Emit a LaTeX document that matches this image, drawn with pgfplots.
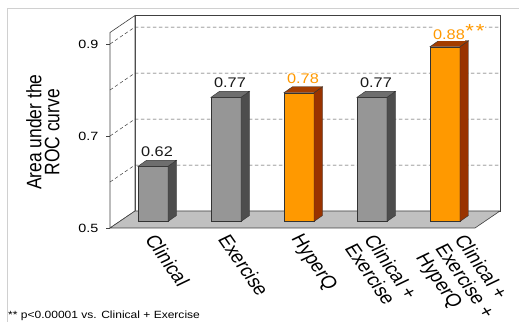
\documentclass[border=0pt]{standalone}
\usepackage{fontspec}
\setmainfont{Liberation Sans}
\usepackage{pgfplots}
\usepackage{pgfplotstable}
\pgfplotsset{compat=1.18}
\definecolor{grayfront}{HTML}{969696}
\definecolor{grayside}{HTML}{4D4D4D}
\definecolor{graytop}{HTML}{6E6E6E}
\definecolor{orfront}{HTML}{FF9900}
\definecolor{orside}{HTML}{993300}
\definecolor{ortop}{HTML}{A33D00}
\definecolor{edge}{HTML}{333333}
\definecolor{wall}{HTML}{404040}
\definecolor{floorc}{HTML}{C0C0C0}
\definecolor{framec}{HTML}{D0D0D0}
\definecolor{labgray}{HTML}{1A1A1A}

\pgfdeclareplotmark{nothing}{}

\pgfplotstableread{
x v
0 0.62
1 0.77
3 0.77
}\graydata
\pgfplotstableread{
x v
2 0.78
}\orangedata
\pgfplotstableread{
x v
4 0.88
}\stardata

\newcommand\starsuffix{\rlap{\setlength{\fboxsep}{0.5bp}\colorbox{white}{\raisebox{0.15em}{\fontsize{19}{19}\selectfont *\hspace{1.5bp}*}}}}

\tikzset{xlab/.style={anchor=north west, align=left, inner sep=0pt, xshift=#1, yshift=-1bp, xscale=1.2, rotate=-60, font=\fontsize{17.5}{18.5}\selectfont}}

\pgfplotsset{
  prism/.style n args={5}{
    scatter, only marks, mark=nothing,
    point meta=explicit symbolic,
    scatter/@pre marker code/.code={%
      \edef\val{\pgfplotspointmeta}%
      \pgfmathsetmacro\H{(\val-0.5)*460}%
      \filldraw[fill=#1, draw=edge, line width=0.4bp] (-8.5bp,{(6.5-\H)*1bp}) rectangle (21.5bp,6.5bp);
      \filldraw[fill=#2, draw=edge, line width=0.4bp] (21.5bp,{(6.5-\H)*1bp}) -- (30bp,{(12.5-\H)*1bp}) -- (30bp,12.5bp) -- (21.5bp,6.5bp) -- cycle;
      \filldraw[fill=#3, draw=edge, line width=0.4bp] (-8.5bp,6.5bp) -- (21.5bp,6.5bp) -- (30bp,12.5bp) -- (0bp,12.5bp) -- cycle;
      \node[text=#4, fill=white, inner sep=0.5bp, xscale=1.17, font=\fontsize{14}{14}\selectfont] at (10.5bp,21bp) {\val#5};
    },
    scatter/@post marker code/.code={},
  },
}

\begin{document}
\begin{tikzpicture}
\begin{axis}[
  at={(110bp,94bp)}, anchor=south west,
  scale only axis, width=365bp, height=195.5bp,
  xmin=-0.5, xmax=4.5, ymin=0.5, ymax=0.925,
  clip=false,
  axis line style={draw=none},
  ytick={0.5,0.7,0.9}, yticklabels={0.5,0.7,0.9},
  ytick pos=left, tick align=outside,
  major tick length=3.5bp,
  ytick style={draw=black!75, line width=0.5bp},
  xtick={0,1,2,3},
  xticklabels={Clinical, Exercise, HyperQ, {Clinical +\\Exercise}},
  extra x ticks={4},
  extra x tick labels={{Clinical +\\Exercise +\\HyperQ}},
  extra x tick style={every x tick label/.style={xlab=28.5bp}},
  xtick style={draw=none},
  every x tick label/.style={xlab=11bp},
  yticklabel style={anchor=east, inner sep=0pt, xshift=-8bp, xscale=1.2, font=\fontsize{12}{12}\selectfont},
  every axis y label/.style={at={(axis description cs:-0.184,0.49)}, anchor=center, xscale=1.2, rotate=90, align=center, font=\fontsize{17.5}{15}\selectfont},
  ylabel={Area under the\\ROC curve},
  /pgf/number format/assume math mode=true,
]
% back wall
\filldraw[fill=white, draw=wall, line width=0.6bp] ([shift={(25bp,17bp)}]axis cs:-0.5,0.5) rectangle ([shift={(25bp,17bp)}]axis cs:4.5,0.925);
% left wall
\filldraw[fill=white, draw=wall, line width=0.6bp] (axis cs:-0.5,0.5) -- ([shift={(25bp,17bp)}]axis cs:-0.5,0.5) -- ([shift={(25bp,17bp)}]axis cs:-0.5,0.925) -- (axis cs:-0.5,0.925) -- cycle;
% gridlines
\pgfplotsinvokeforeach{0.6,0.7,0.8,0.9}{
  \draw[wall, line width=0.5bp, dash pattern=on 3.5bp off 2.5bp] (axis cs:-0.5,#1) -- ([shift={(25bp,17bp)}]axis cs:-0.5,#1) -- ([shift={(25bp,17bp)}]axis cs:4.5,#1);
}
% floor
\filldraw[fill=floorc, draw=wall, line width=0.6bp] (axis cs:-0.5,0.5) -- (axis cs:4.5,0.5) -- ([shift={(25bp,17bp)}]axis cs:4.5,0.5) -- ([shift={(25bp,17bp)}]axis cs:-0.5,0.5) -- cycle;
\addplot[prism={grayfront}{grayside}{graytop}{labgray}{}] table[x=x,y=v,meta=v] {\graydata};
\addplot[prism={orfront}{orside}{ortop}{orfront}{}] table[x=x,y=v,meta=v] {\orangedata};
\addplot[prism={orfront}{orside}{ortop}{orfront}{\starsuffix}] table[x=x,y=v,meta=v] {\stardata};
\end{axis}
\draw[framec, line width=0.8bp] (7bp,0) -- (7bp,314bp) -- (519bp,314bp);
\node[anchor=base west, inner sep=0pt, xscale=1.15, font=\fontsize{10.5}{10.5}\selectfont] at (8bp,3.5bp) {** p<0.00001 vs. Clinical + Exercise};
\pgfresetboundingbox
\path[use as bounding box] (0,0) rectangle (519bp,322bp);
\end{tikzpicture}
\end{document}
